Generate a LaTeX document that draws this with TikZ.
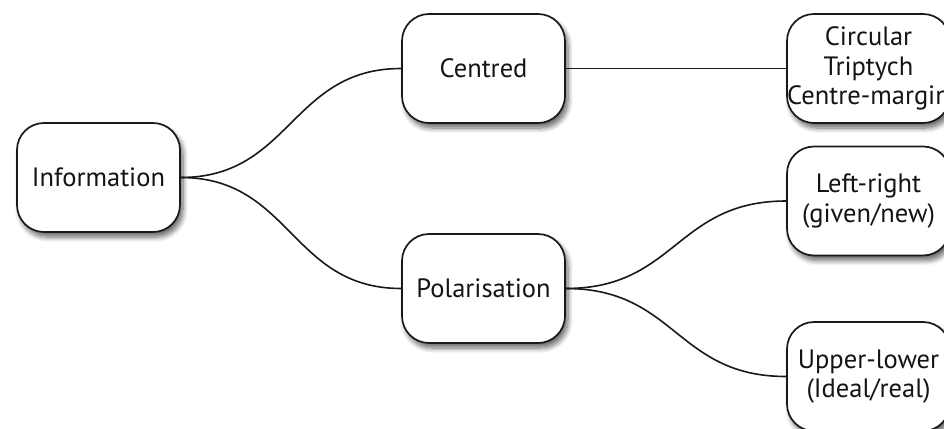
\documentclass[tikz,border=0pt]{standalone}
\usepackage{fontspec}
\setmainfont{PT Sans}
\usetikzlibrary{shadows.blur}
\begin{document}
\begin{tikzpicture}[x=1pt,y=-1pt,
  box/.style={draw=black!90, line width=1.7pt, fill=white, rounded corners=27pt,
    minimum width=163pt, minimum height=109pt, inner sep=0pt, align=center,
    font=\fontsize{26.5}{29.5}\selectfont, text=black!92,
    blur shadow={shadow xshift=3pt, shadow yshift=-5pt, shadow blur steps=8, shadow opacity=60, shadow blur radius=5pt}},
  conn/.style={line width=1.6pt, draw=black!90}]
\useasboundingbox (0,0) rectangle (944,428);
\clip (0,0) rectangle (944,428);
\node[box] (info) at (98.5,177.5) {Information};
\node[box] (cent) at (483.5,68.5) {Centred};
\node[box] (pol) at (483.5,288.5) {Polarisation};
\node[box] (circ) at (868.5,68.5) {Circular\\Triptych\\Centre-margin};
\node[box] (lr) at (868.5,201) {Left-right\\(given/new)};
\node[box] (ul) at (868.5,376.5) {Upper-lower\\(Ideal/real)};
\draw[conn] (info.east) .. controls +(110,0) and +(-110,0) .. (cent.west);
\draw[conn] (info.east) .. controls +(110,0) and +(-110,0) .. (pol.west);
\draw[conn] (cent.east) -- (circ.west);
\draw[conn] (pol.east) .. controls +(110,0) and +(-110,0) .. (lr.west);
\draw[conn] (pol.east) .. controls +(110,0) and +(-110,0) .. (ul.west);
\end{tikzpicture}
\end{document}
